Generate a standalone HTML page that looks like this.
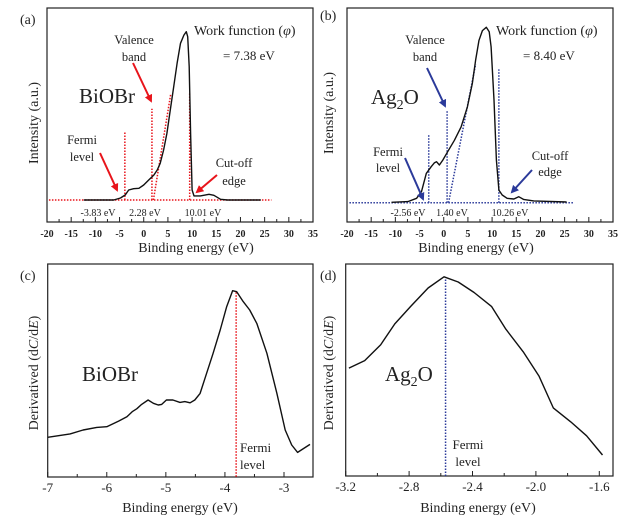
<!DOCTYPE html>
<html><head><meta charset="utf-8">
<style>
body{margin:0;background:#fff;}
svg{display:block;font-family:"Liberation Serif",serif;}
</style></head>
<body>
<svg id="fig" width="640" height="523" viewBox="0 0 640 523" xmlns="http://www.w3.org/2000/svg">
<defs>
<marker id="arR" markerWidth="8" markerHeight="8" refX="6" refY="4" orient="auto" markerUnits="userSpaceOnUse"><path d="M0,0 L8,4 L0,8 z" fill="#e8141b"/></marker>
<marker id="arB" markerWidth="8" markerHeight="8" refX="6" refY="4" orient="auto" markerUnits="userSpaceOnUse"><path d="M0,0 L8,4 L0,8 z" fill="#2b3a9a"/></marker>
</defs>
<g id="pa"></g>
<g id="pb"></g>
<g id="pc"></g>
<g id="pd"></g>
</svg>
<script>
// Panel (a) BiOBr UPS
const aEnergy = [-12.4,-6.2,-4.8,-3.8,-3.1,-2.1,-1.0,0,1.0,2.1,2.8,3.4,4.1,4.8,5.5,6.2,6.9,7.6,8.3,8.8,9.1,9.4,9.7,10.0,10.4,11.7,13.5,14.5,15.9,17.3,24.2];
const aIntensity = [0,0,1.2,3,5.9,6.7,6.9,8.9,11.8,14.8,17.8,21.7,29.6,39.4,53.3,67,80.9,92.7,97.6,99.6,96.6,78.9,39.4,5.9,2.4,2.4,3.4,2.8,0.4,0,0];
// Panel (b) Ag2O UPS
const bEnergy = [-10.8,-7.4,-5.6,-4.6,-3.6,-2.6,-1.9,-1.5,-0.9,-0.2,0.8,2.2,3.6,4.9,5.9,6.6,7.3,8.0,8.8,9.4,9.8,10.4,10.9,11.4,12.1,13.1,14.5,15.5,16.5,18.6,25.4];
const bIntensity = [0.2,0.6,2.5,6.3,16.7,20.5,22.8,23.4,21.5,24.3,29.0,35.6,43.2,54.6,67.9,81.2,92.6,98.1,100,97.5,88.9,58.6,24.3,7.2,4.4,2.5,2.1,3.4,1.9,1.0,0.4];
// Panel (c) BiOBr derivative
const cEnergy = [-7,-6.62,-6.4,-6.17,-6.0,-5.8,-5.66,-5.57,-5.49,-5.41,-5.3,-5.21,-5.13,-5.07,-4.99,-4.88,-4.76,-4.68,-4.59,-4.51,-4.42,-4.31,-4.2,-4.08,-3.97,-3.87,-3.8,-3.69,-3.58,-3.46,-3.29,-3.12,-2.98,-2.87,-2.77,-2.56];
const cValue = [21.1,22.9,25,26.4,26.8,29.8,32.1,34.8,36.4,38.7,41.1,39.3,38.4,38.7,41.1,41.1,39.8,40.2,39.6,41.1,44.6,55.4,66.1,78.6,91.1,99.6,99.1,93.8,89.3,82.1,66.1,44.6,25,17,13,17.3];
// Panel (d) Ag2O derivative
const dEnergy = [-3.18,-3.08,-2.98,-2.89,-2.79,-2.68,-2.58,-2.49,-2.39,-2.28,-2.19,-2.08,-1.98,-1.89,-1.78,-1.68,-1.58];
const dValue = [55.6,59.5,67.6,78.4,87.4,96.9,102.7,100,94.6,87.4,75.7,64,51.4,35.1,27.9,20.7,10.8];
const topTicks = [-20,-15,-10,-5,0,5,10,15,20,25,30,35];
const cTicks = [-7,-6,-5,-4,-3];
const dTicks = [-3.2,-2.8,-2.4,-2.0,-1.6];
const markers = {a:{fermi:-3.9, vb:1.7, cut:9.5}, b:{fermi:-3.1, vb:0.7, cut:11.4}};

const NS="http://www.w3.org/2000/svg";
function mk(parent,tag,attrs,text){const e=document.createElementNS(NS,tag);for(const k in attrs)e.setAttribute(k,attrs[k]);if(text!==undefined)e.textContent=text;parent.appendChild(e);return e;}
function scale(d0,d1,r0,r1){return v=>r0+(v-d0)*(r1-r0)/(d1-d0);}

function frame(g,L,R,T,B){
  const f=mk(g,'rect',{x:L,y:T,width:R-L,height:B-T,fill:'none',stroke:'#222','stroke-width':1.2});
  
  
}
function xticks(g,ticks,x,B,minor,bold,fs,fmt){
  const ax=mk(g,'g',{});
  
  
  ticks.forEach((t,i)=>{
    mk(ax,'line',{x1:x(t),x2:x(t),y1:B,y2:B-5,stroke:'#222'});
    const lb=mk(ax,'text',{x:x(t),y:B+15,'text-anchor':'middle','font-size':fs,'font-weight':bold?'bold':'normal',fill:'#222'},fmt(t));
    
    
    if(i<ticks.length-1){const m=(t+ticks[i+1])/2;mk(ax,'line',{x1:x(m),x2:x(m),y1:B,y2:B-3,stroke:'#222'});}
  });
}
function curve(g,xs,ys,x,y,name){
  const p=mk(g,'polyline',{points:xs.map((v,i)=>x(v).toFixed(1)+','+y(ys[i]).toFixed(1)).join(' '),fill:'none',stroke:'#111','stroke-width':1.4,'stroke-linejoin':'round'});
  
  
}
function txt(g,x,y,s,fs,name,anchor,extra){
  const t=mk(g,'text',Object.assign({x:x,y:y,'font-size':fs,fill:'#222','text-anchor':anchor||'start'},extra||{}));
  t.innerHTML=s;
  
  
  return t;
}
function dline(g,x1,y1,x2,y2,c,name){
  const l=mk(g,'line',{x1:x1,y1:y1,x2:x2,y2:y2,stroke:c,'stroke-width':1.5,'stroke-dasharray':'1.5,1.5'});
  
  
}
function arrow(g,x1,y1,x2,y2,c,m,name){
  const l=mk(g,'line',{x1:x1,y1:y1,x2:x2,y2:y2,stroke:c,'stroke-width':2,'marker-end':'url(#'+m+')'});
  
  
}

// ---- Panel a
(function(){
  const g=document.getElementById('pa');
  const L=47,R=313,T=8,B=222;
  const x=scale(-20,35,L,R), y=scale(0,100,200,31);
  frame(g,L,R,T,B);
  xticks(g,topTicks,x,B,true,true,10,t=>t);
  const c='#e8141b';
  dline(g,x(-19.6),y(0),x(26.4),y(0),c,'baseline-guide');
  dline(g,x(markers.a.fermi),y(0),x(markers.a.fermi),y(40),c,'fermi-guide');
  dline(g,x(markers.a.vb),y(0),x(markers.a.vb),y(54),c,'valence-guide');
  dline(g,x(2.0),y(0),x(5.6),y(63),c,'valence-tangent');
  dline(g,x(markers.a.cut),y(0),x(markers.a.cut),y(63),c,'cutoff-guide');
  curve(g,aEnergy,aIntensity,x,y,'biobr-ups-curve');
  arrow(g,100,153,117,190,c,'arR','fermi-arrow');
  arrow(g,133,63,151,101,c,'arR','valence-arrow');
  arrow(g,217,175,197,192,c,'arR','cutoff-arrow');
  txt(g,20,24,'(a)',14,'panel-label-a');
  txt(g,194,35,'Work function (<tspan font-style="italic">φ</tspan>)',14,'work-function-label');
  txt(g,223,60,'= 7.38 eV',13,'work-function-value');
  txt(g,134,44,'Valence',12.5,'valence-label','middle');
  txt(g,134,61,'band',12.5,'valence-label-2','middle');
  txt(g,79,103,'BiOBr',21,'sample-label-biobr');
  txt(g,82,144,'Fermi',12.5,'fermi-label','middle');
  txt(g,82,161,'level',12.5,'fermi-label-2','middle');
  txt(g,234,167,'Cut-off',12.5,'cutoff-label','middle');
  txt(g,234,185,'edge',12.5,'cutoff-label-2','middle');
  txt(g,98,216,'-3.83 eV',10,'fermi-value','middle');
  txt(g,145,216,'2.28 eV',10,'valence-value','middle');
  txt(g,203,216,'10.01 eV',10,'cutoff-value','middle');
  txt(g,196,252,'Binding energy (eV)',14,'x-axis-title-a','middle');
  txt(g,38,123,'Intensity (a.u.)',14,'y-axis-title-a','middle',{transform:'rotate(-90 38 123)'});
})();

// ---- Panel b
(function(){
  const g=document.getElementById('pb');
  const L=347,R=613,T=8,B=222;
  const x=scale(-20,35,L,R), y=scale(0,100,202.7,27.3);
  frame(g,L,R,T,B);
  xticks(g,topTicks,x,B,true,true,10,t=>t);
  const c='#2b3a9a';
  dline(g,x(-19.5),y(0),x(27),y(0),c,'baseline-guide');
  dline(g,x(markers.b.fermi),y(0),x(markers.b.fermi),y(39),c,'fermi-guide');
  dline(g,x(markers.b.vb),y(0),x(markers.b.vb),y(53),c,'valence-guide');
  dline(g,x(1.0),y(0),x(6.6),y(79),c,'valence-tangent');
  dline(g,x(markers.b.cut),y(0),x(markers.b.cut),y(76),c,'cutoff-guide');
  curve(g,bEnergy,bIntensity,x,y,'ag2o-ups-curve');
  arrow(g,405,158,423,199,c,'arB','fermi-arrow');
  arrow(g,427,68,445,106,c,'arB','valence-arrow');
  arrow(g,532,170,512,192,c,'arB','cutoff-arrow');
  txt(g,320,20,'(b)',14,'panel-label-b');
  txt(g,496,35,'Work function (<tspan font-style="italic">φ</tspan>)',14,'work-function-label');
  txt(g,523,60,'= 8.40 eV',13,'work-function-value');
  txt(g,425,44,'Valence',12.5,'valence-label','middle');
  txt(g,425,61,'band',12.5,'valence-label-2','middle');
  txt(g,371,104,'Ag<tspan font-size="14" dy="5">2</tspan><tspan dy="-5">O</tspan>',21,'sample-label-ag2o');
  txt(g,388,156,'Fermi',12.5,'fermi-label','middle');
  txt(g,388,172,'level',12.5,'fermi-label-2','middle');
  txt(g,550,160,'Cut-off',12.5,'cutoff-label','middle');
  txt(g,550,176,'edge',12.5,'cutoff-label-2','middle');
  txt(g,408,216,'-2.56 eV',10,'fermi-value','middle');
  txt(g,452,216,'1.40 eV',10,'valence-value','middle');
  txt(g,510,216,'10.26 eV',10,'cutoff-value','middle');
  txt(g,476,252,'Binding energy (eV)',14,'x-axis-title-b','middle');
  txt(g,333,113,'Intensity (a.u.)',14,'y-axis-title-b','middle',{transform:'rotate(-90 333 113)'});
})();

// ---- Panel c
(function(){
  const g=document.getElementById('pc');
  const L=47.7,R=313,T=264,B=477;
  const x=scale(-7,-3,47.7,284), y=scale(0,100,476.7,290);
  frame(g,L,R,T,B);
  xticks(g,cTicks,x,B,true,false,13,t=>t);
  dline(g,x(-3.81),y(0),x(-3.81),y(99),'#e8141b','fermi-guide');
  curve(g,cEnergy,cValue,x,y,'biobr-derivative-curve');
  txt(g,20,280,'(c)',14,'panel-label-c');
  txt(g,82,381,'BiOBr',21,'sample-label-biobr');
  txt(g,240,452,'Fermi',13,'fermi-label');
  txt(g,240,469,'level',13,'fermi-label-2');
  txt(g,180,512,'Binding energy (eV)',14,'x-axis-title-c','middle');
  txt(g,38,373,'Derivatived (d<tspan font-style="italic">C</tspan>/d<tspan font-style="italic">E</tspan>)',14,'y-axis-title-c','middle',{transform:'rotate(-90 38 373)'});
})();

// ---- Panel d
(function(){
  const g=document.getElementById('pd');
  const L=345.7,R=613,T=264,B=476;
  const x=scale(-3.2,-1.6,345.7,599.3), y=scale(0,100,476,282);
  frame(g,L,R,T,B);
  xticks(g,dTicks,x,B,true,false,13,t=>t.toFixed(1));
  dline(g,x(-2.57),y(0),x(-2.57),y(102),'#2b3a9a','fermi-guide');
  curve(g,dEnergy,dValue,x,y,'ag2o-derivative-curve');
  txt(g,320,280,'(d)',14,'panel-label-d');
  txt(g,385,381,'Ag<tspan font-size="14" dy="5">2</tspan><tspan dy="-5">O</tspan>',21,'sample-label-ag2o');
  txt(g,468,449,'Fermi',13,'fermi-label','middle');
  txt(g,468,466,'level',13,'fermi-label-2','middle');
  txt(g,478,512,'Binding energy (eV)',14,'x-axis-title-d','middle');
  txt(g,333,373,'Derivatived (d<tspan font-style="italic">C</tspan>/d<tspan font-style="italic">E</tspan>)',14,'y-axis-title-d','middle',{transform:'rotate(-90 333 373)'});
})();
</script>
</body></html>
